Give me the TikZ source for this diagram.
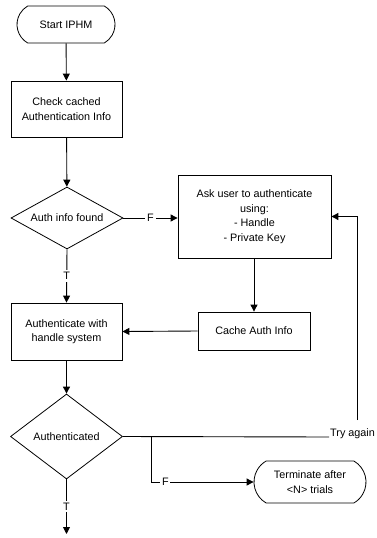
\documentclass[tikz,border=0pt]{standalone}
\usepackage{fontspec}
\setmainfont{Liberation Sans}
\usetikzlibrary{shapes.geometric,shapes.misc,arrows.meta}
\begin{document}
\begin{tikzpicture}[x=1pt,y=-1pt,
  every node/.style={font=\fontsize{10.8}{14.5}\selectfont},
  box/.style={draw, line width=0.8pt, align=center, inner sep=0pt},
  termbox/.style={draw, line width=0.8pt, align=center, inner sep=0pt, rounded rectangle, rounded rectangle arc length=120},
  dec/.style={draw, line width=0.8pt, diamond, inner sep=0pt, aspect=1.6},
  conn/.style={line width=0.9pt, -{Triangle[length=7pt,width=7pt]}},
  plain/.style={line width=0.9pt},
  lbl/.style={fill=white, inner sep=1.8pt}]
\useasboundingbox (0,0) rectangle (377,538);

\node[termbox, minimum width=98pt, minimum height=37pt] (start) at (66,24.5) {Start IPHM};
\node[box, minimum width=111pt, minimum height=56pt] (check) at (66.5,109) {Check cached\\Authentication Info};
\node[dec, minimum width=112pt, minimum height=62pt] (d1) at (67,218) {Auth info found};
\node[box, minimum width=153pt, minimum height=83pt] (ask) at (254.5,216.5) {Ask user to authenticate\\using:\\- Handle\\- Private Key};
\node[box, minimum width=112pt, minimum height=38pt] (cache) at (254,331) {Cache Auth Info};
\node[box, minimum width=111pt, minimum height=57pt] (auth) at (66.5,331.5) {Authenticate with\\handle system};
\node[dec, minimum width=112pt, minimum height=85pt] (d2) at (66.5,436.5) {Authenticated};
\node[termbox, minimum width=112pt, minimum height=42pt] (term) at (310,482) {Terminate after\\<N> trials};
\node[anchor=base west, inner sep=1pt] (try) at (329,436) {Try again};

\coordinate (tryend) at (329,437);
\coordinate (turn) at (357,420);
\coordinate (br) at (151,436.5);
\coordinate (stop) at (66.5,534);

\draw[conn] (start) -- (check);
\draw[conn] (check) -- (d1);
\draw[conn] (d1.east) -- node[lbl]{F} (ask.west |- d1.east);
\draw[conn] (d1.south) -- node[lbl]{T} (auth.north);
\draw[conn] (ask.south -| cache.north) -- (cache.north);
\draw[conn] (cache.west) -- (auth.east);
\draw[conn] (auth) -- (d2);
\draw[plain] (d2.east) -- (tryend);
\draw[conn] (turn) |- (ask.east);
\draw[conn] (br) |- node[lbl, pos=0.57]{F} (term.west);
\draw[conn] (d2.south) -- node[lbl]{T} (stop);
\end{tikzpicture}
\end{document}
